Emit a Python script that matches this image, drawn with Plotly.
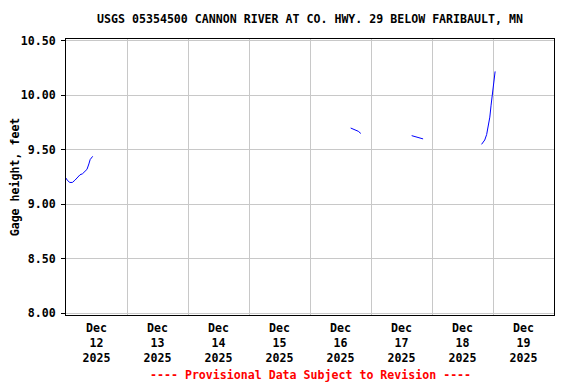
import plotly.graph_objects as go

# Gage height readings (feet); None separates gaps in record
times = [
    "2025-12-12 00:00", "2025-12-12 00:30", "2025-12-12 01:30", "2025-12-12 02:30",
    "2025-12-12 03:30", "2025-12-12 04:30", "2025-12-12 05:30", "2025-12-12 06:30",
    "2025-12-12 07:30", "2025-12-12 08:15", "2025-12-12 09:00", "2025-12-12 09:30",
    "2025-12-12 10:30",
    None,
    "2025-12-16 16:00", "2025-12-16 17:00", "2025-12-16 18:00", "2025-12-16 19:00",
    "2025-12-16 20:00",
    None,
    "2025-12-17 16:00", "2025-12-17 17:30", "2025-12-17 19:00", "2025-12-17 20:30",
    None,
    "2025-12-18 19:30", "2025-12-18 20:45", "2025-12-18 21:30", "2025-12-18 22:00",
    "2025-12-18 22:45", "2025-12-18 23:15", "2025-12-18 23:45", "2025-12-19 00:15",
    "2025-12-19 00:45", "2025-12-19 00:50",
]
gage_ft = [
    9.24, 9.22, 9.20, 9.20,
    9.22, 9.25, 9.27, 9.28,
    9.30, 9.32, 9.37, 9.41,
    9.44,
    None,
    9.70, 9.69, 9.68, 9.67,
    9.65,
    None,
    9.63, 9.62, 9.61, 9.60,
    None,
    9.55, 9.59, 9.64, 9.70,
    9.80, 9.91, 10.00, 10.10,
    10.20, 10.22,
]

x_tick_vals = ["2025-12-12 12:00", "2025-12-13 12:00", "2025-12-14 12:00", "2025-12-15 12:00",
               "2025-12-16 12:00", "2025-12-17 12:00", "2025-12-18 12:00", "2025-12-19 12:00"]
x_tick_text = ["Dec<br>12<br>2025", "Dec<br>13<br>2025", "Dec<br>14<br>2025", "Dec<br>15<br>2025",
               "Dec<br>16<br>2025", "Dec<br>17<br>2025", "Dec<br>18<br>2025", "Dec<br>19<br>2025"]
y_tick_vals = [8.0, 8.5, 9.0, 9.5, 10.0, 10.5]
y_tick_text = ["8.00", "8.50", "9.00", "9.50", "10.00", "10.50"]

FONT = "DejaVu Sans Mono"
FS = 11.6
W, H = 568, 376  # page body has an 8px margin
ML, MR, MT, MB = 58, 22, 31, 69
PH = H - MT - MB


def fnt(color="black"):
    return dict(family=FONT, size=FS, color=color, weight="bold")


fig = go.Figure()
fig.add_trace(go.Scatter(
    x=times, y=gage_ft, mode="lines",
    line=dict(color="#0000ff", width=1),
    connectgaps=False, showlegend=False, hoverinfo="x+y",
))

fig.update_layout(
    width=W, height=H,
    margin=dict(l=ML, r=MR, t=MT, b=MB, pad=0),
    paper_bgcolor="white", plot_bgcolor="white",
    font=fnt(),
    title=dict(
        text="USGS 05354500 CANNON RIVER AT CO. HWY. 29 BELOW FARIBAULT, MN",
        x=(ML + (W - ML - MR) / 2) / W, xanchor="center",
        y=1 - 11 / H, yanchor="middle",
        font=fnt(),
    ),
    xaxis=dict(
        type="date", automargin=False,
        range=["2025-12-12 00:00", "2025-12-20 00:00"],
        tickmode="array", tickvals=x_tick_vals, ticktext=x_tick_text,
        showgrid=False, ticks="", ticklen=0, ticklabelstandoff=2,
        tickfont=fnt(),
        minor=dict(dtick=86400000, tick0="2025-12-12", showgrid=True,
                   gridcolor="#c8c8c8", gridwidth=1, ticks=""),
        showline=True, linecolor="black", linewidth=1, mirror=True,
        zeroline=False,
    ),
    yaxis=dict(
        automargin=False,
        range=[7.982, 10.518],
        tickmode="array", tickvals=y_tick_vals, ticktext=y_tick_text,
        showgrid=True, gridcolor="#c8c8c8", gridwidth=1,
        ticks="outside", ticklen=4, tickcolor="black", ticklabelstandoff=3,
        tickfont=fnt(),
        title=dict(text="Gage height, feet", standoff=4, font=fnt()),
        showline=True, linecolor="black", linewidth=1, mirror=True,
        zeroline=False,
    ),
    annotations=[dict(
        text="---- Provisional Data Subject to Revision ----",
        xref="paper", yref="paper", x=0.5, y=-(367 - (H - MB)) / PH,
        xanchor="center", yanchor="middle", showarrow=False,
        font=fnt("red"),
    )],
)

fig.write_html("out.html")
